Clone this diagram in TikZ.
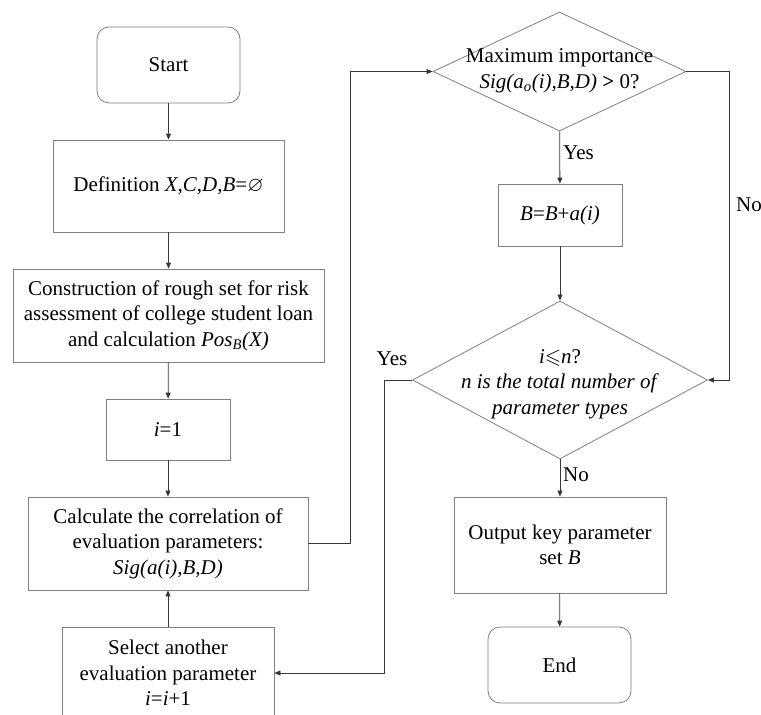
\documentclass[tikz,border=0pt]{standalone}
\usepackage{amssymb}
\usepackage{fontspec}
\setmainfont{Liberation Serif}
\usetikzlibrary{shapes.geometric,arrows.meta}
\definecolor{boxgray}{RGB}{128,128,128}
\definecolor{linegray}{RGB}{55,55,55}
\begin{document}
\begin{tikzpicture}[x=1pt,y=-1pt,
  font=\fontsize{21}{25.5}\selectfont,
  stepbox/.style={draw=boxgray, line width=0.8pt, align=center, inner sep=2pt},
  termbox/.style={stepbox, rounded corners=12pt},
  decbox/.style={draw=boxgray, line width=0.8pt, shape=diamond, inner sep=0pt},
  dectext/.style={align=center, inner sep=0pt},
  flow/.style={draw=linegray, line width=0.8pt, -{Triangle[length=6pt,width=5pt]}},
  lbl/.style={inner sep=1pt}]
\useasboundingbox (0,0) rectangle (761,715);

\node[termbox, minimum width=143pt, minimum height=76pt] (start) at (168.5,65) {Start};
\node[stepbox, minimum width=231pt, minimum height=92pt] (def) at (168.5,186) {Definition \textit{X},\textit{C},\textit{D},\textit{B}=$\varnothing$};
\node[stepbox, minimum width=311pt, minimum height=93pt] (cons) at (168.5,315.5) {Construction of rough set for risk\\assessment of college student loan\\and calculation \textit{Pos\textsubscript{B}(X)}};
\node[stepbox, minimum width=124pt, minimum height=61pt] (i1) at (168,429.5) {\textit{i}=1};
\node[stepbox, minimum width=280pt, minimum height=93pt] (calc) at (168,543.5) {Calculate the correlation of\\evaluation parameters:\\\textit{Sig(a(i),B,D)}};
\node[stepbox, minimum width=212pt, minimum height=92pt] (sel) at (168,673) {Select another\\evaluation parameter\\\textit{i}=\textit{i}+1};

\node[decbox, minimum width=253pt, minimum height=119pt] (d1) at (559.5,71.5) {};
\node[dectext] (d1t) at (559.5,71) {Maximum importance\\\textit{Sig(a\textsubscript{o}(i),B,D)} \textbf{>} 0?};
\node[stepbox, minimum width=124pt, minimum height=62pt] (bb) at (560,215) {\textit{B}=\textit{B}+\textit{a(i)}};
\node[decbox, minimum width=295pt, minimum height=158pt] (d2) at (560,380) {};
\node[dectext] (d2t) at (560,384) {\textit{i}$\leqslant$\textit{n}?\\\textit{n is the total number of}\\\textit{parameter types}};
\node[stepbox, minimum width=212pt, minimum height=96pt] (out) at (560,545) {Output key parameter\\set \textit{B}};
\node[termbox, minimum width=143pt, minimum height=76pt] (end) at (559.5,665) {End};

\draw[flow] (start) -- (def);
\draw[flow] (def) -- (cons);
\draw[flow] (cons) -- (i1);
\draw[flow] (i1) -- (calc);
\draw[flow] (sel) -- (calc);
\draw[flow] (calc.east) -- ++(42,0) |- (d1.west);
\draw[flow] (d1.east) -- ++(43,0) |- (d2.east);
\draw[flow] (d1) -- (bb);
\draw[flow] (bb) -- (d2);
\draw[flow] (d2) -- (out);
\draw[flow] (out) -- (end);
\draw[flow] (d2.west) -- ++(-28,0) |- (sel.east);

\node[lbl, anchor=west] (ly1) at (562,153) {Yes};
\node[lbl, anchor=west] (ln1) at (735,205) {No};
\node[lbl] (ly2) at (392,359) {Yes};
\node[lbl, anchor=west] (ln2) at (562,475) {No};
\end{tikzpicture}
\end{document}
